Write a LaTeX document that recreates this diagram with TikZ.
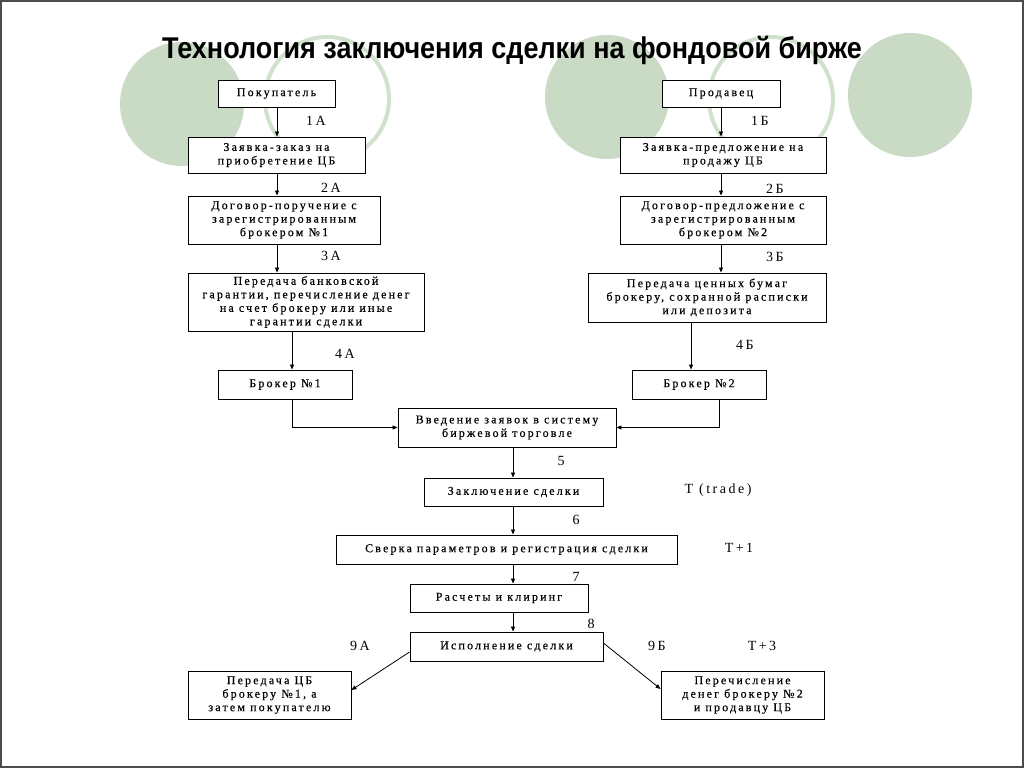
\documentclass[tikz,border=0pt]{standalone}
\usepackage{fontspec}
\setmainfont{Liberation Serif}
\newfontfamily\titlefont{Liberation Sans}
\newfontfamily\boxfontfam[LetterSpace=18,FakeBold=0.4]{Liberation Serif}
\newfontfamily\lblfontfam[LetterSpace=18]{Liberation Serif}
\usetikzlibrary{arrows.meta}
\definecolor{cfill}{HTML}{C9DBC5}
\definecolor{cring}{HTML}{D0E1CC}
\begin{document}
\begin{tikzpicture}[x=1pt,y=-1pt,
  box/.style={draw=black, line width=0.9pt, fill=white, align=center, inner sep=0pt,
    font=\boxfontfam\fontsize{12}{13.5}\selectfont},
  arr/.style={-{Triangle[length=5pt,width=4pt]}, line width=0.8pt},
  lbl/.style={font=\lblfontfam\fontsize{14}{16}\selectfont, inner sep=0pt},
  disc/.style={fill=cfill},
  ring/.style={draw=cring, line width=4pt},
]
\useasboundingbox (0,0) rectangle (1024,768);
\draw[line width=1.5pt, draw=black!70] (1,1) rectangle (1023,767);

% decorative circles
\fill[disc] (182,104) circle[x radius=62pt, y radius=62pt];
\draw[ring] (327,99) circle[x radius=62pt, y radius=62pt];
\fill[disc] (607,97) circle[x radius=62pt, y radius=62pt];
\draw[ring] (771,99) circle[x radius=62pt, y radius=62pt];
\fill[disc] (910,95) circle[x radius=62pt, y radius=62pt];

% title
\node[font=\titlefont\bfseries\fontsize{30}{32}\selectfont, inner sep=0pt, xscale=0.9] (title) at (512,50)
  {Технология заключения сделки на фондовой бирже};

% left column
\node[box, minimum width=117pt, minimum height=27pt] (buy) at (276.5,93.5) {Покупатель};
\node[box, minimum width=177pt, minimum height=36pt] (zA) at (276.5,155) {Заявка-заказ на\\приобретение ЦБ};
\node[box, minimum width=192pt, minimum height=48pt] (dA) at (284,220) {Договор-поручение с\\зарегистрированным\\брокером №1};
\node[box, minimum width=236pt, minimum height=58pt] (pA) at (306,302) {Передача банковской\\гарантии, перечисление денег\\на счет брокеру или иные\\гарантии сделки};
\node[box, minimum width=134pt, minimum height=29pt] (b1) at (285,384.5) {Брокер №1};

% right column
\node[box, minimum width=118pt, minimum height=27pt] (sell) at (721,93.5) {Продавец};
\node[box, minimum width=206pt, minimum height=36pt] (zB) at (723,155) {Заявка-предложение на\\продажу ЦБ};
\node[box, minimum width=206pt, minimum height=48pt] (dB) at (723,220) {Договор-предложение с\\зарегистрированным\\брокером №2};
\node[box, minimum width=238pt, minimum height=49pt] (pB) at (707,297.5) {Передача ценных бумаг\\брокеру, сохранной расписки\\или депозита};
\node[box, minimum width=134pt, minimum height=29pt] (b2) at (699,384.5) {Брокер №2};

% centre column
\node[box, minimum width=218pt, minimum height=39pt] (vv) at (507,427.5) {Введение заявок в систему\\биржевой торговле};
\node[box, minimum width=179pt, minimum height=28pt] (zs) at (513.5,492) {Заключение сделки};
\node[box, minimum width=341pt, minimum height=29pt] (sv) at (506.5,549.5) {Сверка параметров и регистрация сделки};
\node[box, minimum width=178pt, minimum height=28pt] (rk) at (499,598) {Расчеты и клиринг};
\node[box, minimum width=193pt, minimum height=29pt] (is) at (506.5,646.5) {Исполнение сделки};
\node[box, minimum width=163pt, minimum height=48pt] (lA) at (269.5,695) {Передача ЦБ\\брокеру №1, а\\затем покупателю};
\node[box, minimum width=163pt, minimum height=48pt] (rB) at (742.5,695) {Перечисление\\денег брокеру №2\\и продавцу ЦБ};

% helper x positions
\coordinate (xa) at (277,0);
\coordinate (xa2) at (292,0);
\coordinate (xb) at (721,0);
\coordinate (xb2) at (691,0);
\coordinate (xb3) at (719,0);
\coordinate (xc) at (513,0);

% connectors left
\draw[arr] (buy.south -| xa) -- (zA.north -| xa);
\draw[arr] (zA.south -| xa) -- (dA.north -| xa);
\draw[arr] (dA.south -| xa) -- (pA.north -| xa);
\draw[arr] (pA.south -| xa2) -- (b1.north -| xa2);
\draw[arr] (b1.south -| xa2) |- (vv.west);
% connectors right
\draw[arr] (sell.south -| xb) -- (zB.north -| xb);
\draw[arr] (zB.south -| xb) -- (dB.north -| xb);
\draw[arr] (dB.south -| xb) -- (pB.north -| xb);
\draw[arr] (pB.south -| xb2) -- (b2.north -| xb2);
\draw[arr] (b2.south -| xb3) |- (vv.east);
% connectors centre
\draw[arr] (vv.south -| xc) -- (zs.north -| xc);
\draw[arr] (zs.south -| xc) -- (sv.north -| xc);
\draw[arr] (sv.south -| xc) -- (rk.north -| xc);
\draw[arr] (rk.south -| xc) -- (is.north -| xc);
\draw[arr] ([yshift=-5.5pt]is.west) -- ([yshift=5pt]lA.east);
\draw[arr] ([yshift=3.5pt]is.east) -- ([yshift=6pt]rB.west);

% labels
\node[lbl] (l1a) at (316,121) {1А};
\node[lbl] (l1b) at (760,121) {1Б};
\node[lbl] (l2a) at (331,188) {2А};
\node[lbl] (l2b) at (775,189) {2Б};
\node[lbl] (l3a) at (331,256) {3А};
\node[lbl] (l3b) at (775,257) {3Б};
\node[lbl] (l4a) at (345,354) {4А};
\node[lbl] (l4b) at (745,345) {4Б};
\node[lbl] (l5) at (561,461) {5};
\node[lbl] (l6) at (576,520) {6};
\node[lbl] (l7) at (576,577) {7};
\node[lbl] (l8) at (591,624) {8};
\node[lbl] (tt) at (718,490) {T (trade)};
\node[lbl] (t1) at (739,548) {T+1};
\node[lbl] (t3) at (762,646) {T+3};
\node[lbl] (l9a) at (360,646) {9А};
\node[lbl] (l9b) at (657,646) {9Б};
\end{tikzpicture}
\end{document}
